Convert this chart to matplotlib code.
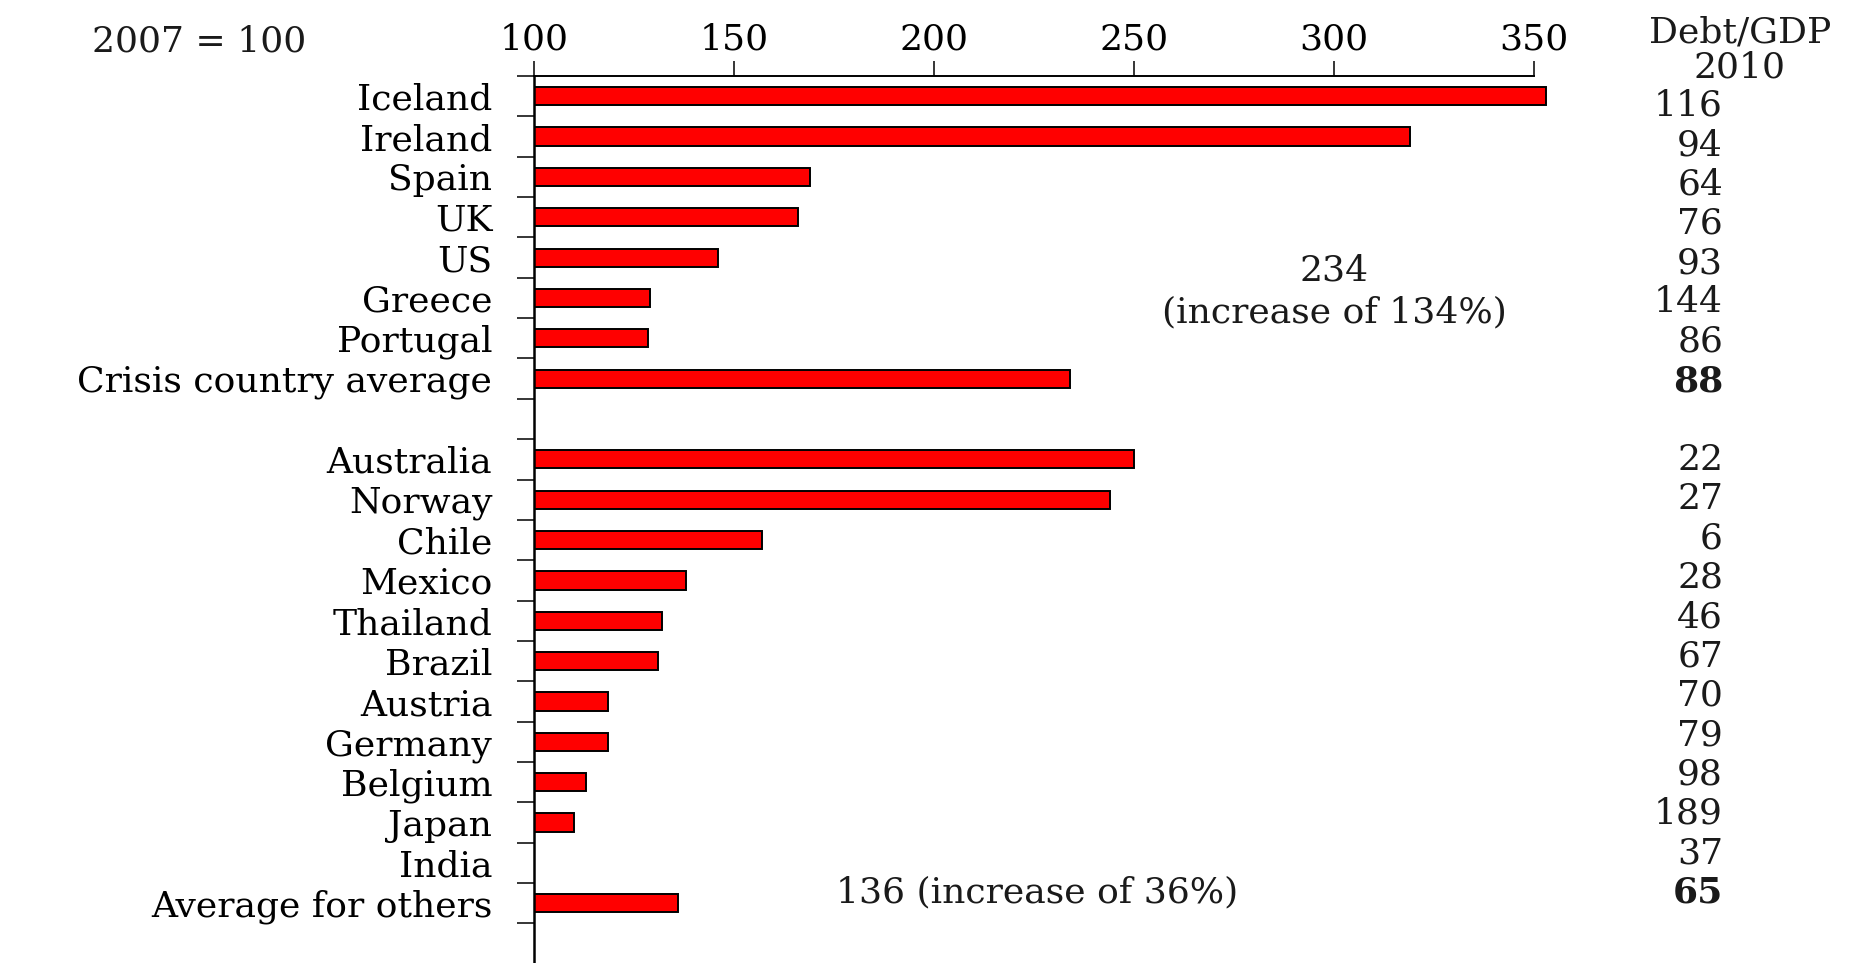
import numpy as np
import matplotlib
matplotlib.use("Agg")
import matplotlib.pyplot as plt
from matplotlib import transforms

plt.rcParams['font.family'] = 'DejaVu Serif'
plt.rcParams['text.color'] = '#1a1a1a'

# rows from top to bottom, the empty row separates the two groups
countries = ['Iceland', 'Ireland', 'Spain', 'UK', 'US', 'Greece', 'Portugal',
             'Crisis country average', '',
             'Australia', 'Norway', 'Chile', 'Mexico', 'Thailand', 'Brazil',
             'Austria', 'Germany', 'Belgium', 'Japan', 'India', 'Average for others']

# house price index, 2007 = 100 (no bar for India)
index_2010 = [353, 319, 169, 166, 146, 129, 128.5, 234, np.nan,
              250, 244, 157, 138, 132, 131, 118.5, 118.5, 113, 110, np.nan, 136]

# government debt / GDP in 2010
debt_gdp = ['116', '94', '64', '76', '93', '144', '86', '88', '',
            '22', '27', '6', '28', '46', '67', '70', '79', '98', '189', '37', '65']
avg_rows = [7, 20]

xticks = [100, 150, 200, 250, 300, 350]
fs = 26

fig = plt.figure(figsize=(18.66, 9.63), dpi=100)
ax = fig.add_axes([534 / 1866, 0, 1040 / 1866, 887 / 963])

rows = np.arange(len(countries))
vals = np.array(index_2010, dtype=float)
ax.barh(rows, vals - 100, left=100, height=0.45, color='#ff0000',
        edgecolor='black', linewidth=1.4)

ax.set_xlim(100, 360)
ax.set_ylim(21.48, -0.5)

# axes: only the top line and the left line
ax.spines['right'].set_visible(False)
ax.spines['bottom'].set_visible(False)
ax.spines['top'].set_bounds(100, 350)
ax.spines['top'].set_linewidth(1.4)
ax.spines['left'].set_linewidth(1.8)

ax.xaxis.tick_top()
ax.set_xticks(xticks)
ax.set_xticklabels([str(t) for t in xticks])
ax.tick_params(axis='x', direction='out', length=11, width=1.1, pad=3, labelsize=fs)

ax.set_yticks(rows)
ax.set_yticklabels(countries)
ax.tick_params(axis='y', which='major', length=0, pad=30, labelsize=fs)
ax.set_yticks(np.arange(-0.5, len(countries), 1), minor=True)
ax.tick_params(axis='y', which='minor', direction='out', length=12, width=1.1)

# debt/GDP column on the right
trans = transforms.blended_transform_factory(fig.transFigure, ax.transData)
fig.text(1740 / 1866, 1 - 32 / 963, 'Debt/GDP', ha='center', va='center', fontsize=fs)
fig.text(1740 / 1866, 1 - 68 / 963, '2010', ha='center', va='center', fontsize=fs)
for i, d in enumerate(debt_gdp):
    if not d:
        continue
    ax.text(1723 / 1866, 0.235 + 0.975 * i, d, transform=trans, ha='right', va='center',
            fontsize=fs, fontweight='bold' if i in avg_rows else 'normal')

fig.text(199 / 1866, 1 - 42 / 963, '2007 = 100', ha='center', va='center', fontsize=fs)

# averages written next to the bars
crisis_avg = index_2010[7]
others_avg = index_2010[20]
ax.text(300, 4.33, f'{crisis_avg:.0f}', ha='center', va='center', fontsize=fs)
ax.text(300, 5.37, f'(increase of {crisis_avg - 100:.0f}%)', ha='center', va='center', fontsize=fs)
ax.text(225.75, 19.74, f'{others_avg:.0f} (increase of {others_avg - 100:.0f}%)',
        ha='center', va='center', fontsize=fs)

fig.savefig('out.png', dpi=100)
